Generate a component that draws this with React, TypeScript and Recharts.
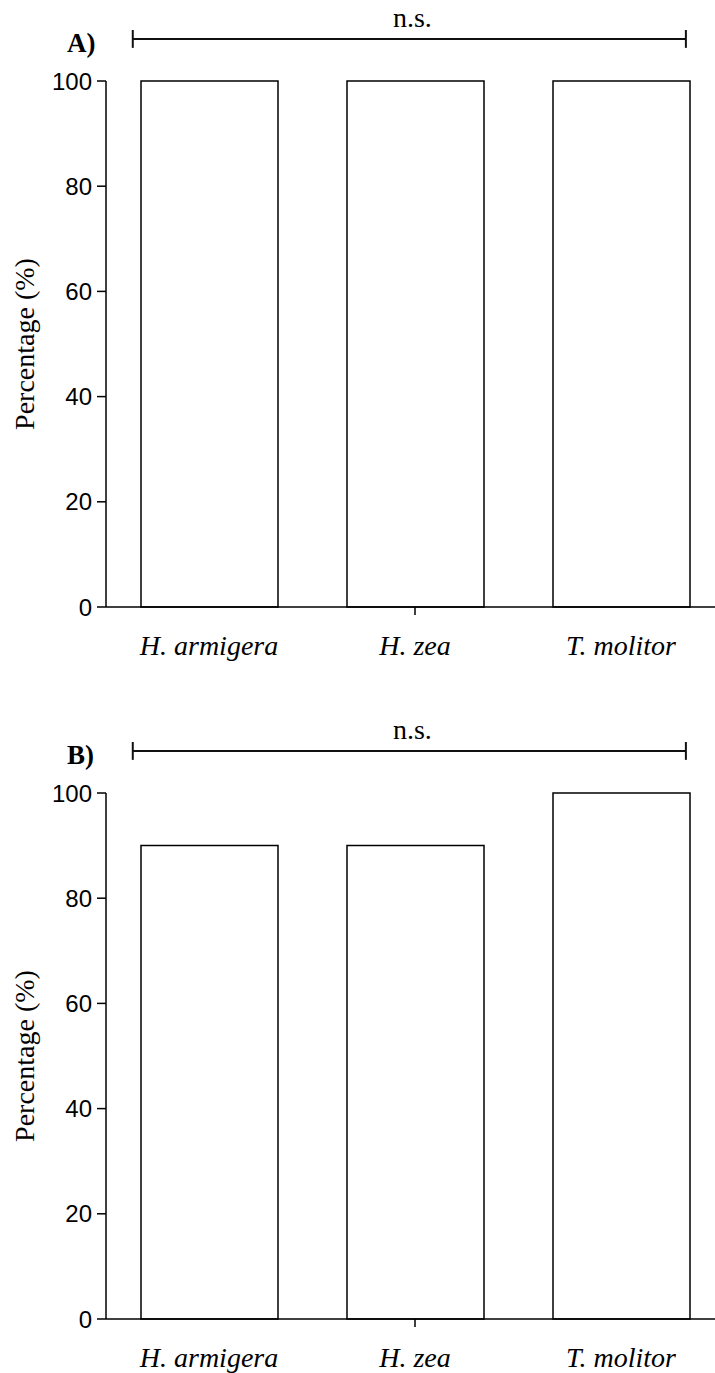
import { Bar, BarChart, ReferenceLine, XAxis, YAxis } from "recharts";

const species = ["H. armigera", "H. zea", "T. molitor"];
const speciesSlot = [0.5, 1.5, 2.5];
const panelAValues = [100, 100, 100];
const panelBValues = [90, 90, 100];
const yTicks = [0, 20, 40, 60, 80, 100];
const tickedSpecies = ["H. zea"];
// bracket ends, measured in category bands along the x axis (0 = left edge, 3 = right edge)
const bracketSpan = [0.13, 2.815];
const bracketLevel = 108;
const bracketCap = 1.7;
const bracketText = "n.s.";
const panelLabels = ["A)", "B)"];

const CHART_W = 730;
const CHART_H = 661;
const PANEL_STEP = 712;
const SERIF = "'Liberation Serif', 'Times New Roman', serif";
const SANS = "'Liberation Sans', Arial, sans-serif";

function SpeciesTick({ x, y, payload }: any) {
  const showLine = tickedSpecies.includes(payload.value);
  return (
    <g>
      {showLine && <line x1={x} x2={x} y1={y} y2={y + 8} stroke="#000" strokeWidth={1.5} />}
      <text
        x={x}
        y={y + 38}
        textAnchor="middle"
        dominantBaseline="central"
        fontFamily={SERIF}
        fontStyle="italic"
        fontSize={28}
        fill="#000"
      >
        {payload.value}
      </text>
    </g>
  );
}

function Panel({ values, label, top }: { values: number[]; label: string; top: number }) {
  const data = species.map((name, i) => ({ name, slot: speciesSlot[i], value: values[i] }));
  const lineStyle = { stroke: "#111", strokeWidth: 2 };

  return (
    <div style={{ position: "absolute", left: 0, top, width: CHART_W, height: CHART_H }}>
      <div
        style={{
          position: "absolute",
          left: 67,
          top: 28,
          fontFamily: SERIF,
          fontWeight: "bold",
          fontSize: 27,
          lineHeight: "30px",
          color: "#000",
        }}
      >
        {label}
      </div>
      <BarChart
        width={CHART_W}
        height={CHART_H}
        data={data}
        margin={{ top: 81, right: 6, bottom: 0, left: 0 }}
        style={{ overflow: "visible" }}
      >
        <XAxis
          dataKey="name"
          height={54}
          tickSize={0}
          tickMargin={0}
          tickLine={false}
          axisLine={{ stroke: "#000", strokeWidth: 1.5 }}
          tick={<SpeciesTick />}
          interval={0}
        />
        <XAxis
          xAxisId="span"
          dataKey="slot"
          type="number"
          domain={[0, 3]}
          hide
          allowDataOverflow
        />
        <YAxis
          width={106}
          domain={[0, 100]}
          ticks={yTicks}
          interval={0}
          tickSize={9}
          tickMargin={5}
          axisLine={{ stroke: "#000", strokeWidth: 1.5 }}
          tickLine={{ stroke: "#000", strokeWidth: 1.5 }}
          tick={{ fill: "#000", fontSize: 24, fontFamily: SANS }}
          label={{
            content: ({ viewBox }: any) => (
              <text
                transform={`translate(24, ${viewBox.y + viewBox.height / 2}) rotate(-90)`}
                textAnchor="middle"
                dominantBaseline="central"
                fontFamily={SERIF}
                fontSize={28}
                fill="#000"
              >
                Percentage (%)
              </text>
            ),
          }}
        />
        <Bar
          dataKey="value"
          barSize={137}
          fill="#fff"
          stroke="#000"
          strokeWidth={1.5}
          isAnimationActive={false}
        />
        <ReferenceLine
          xAxisId="span"
          ifOverflow="visible"
          segment={[
            { x: bracketSpan[0], y: bracketLevel },
            { x: bracketSpan[1], y: bracketLevel },
          ]}
          {...lineStyle}
          label={{
            content: ({ viewBox }: any) => (
              <text
                x={viewBox.x + viewBox.width / 2 + 3}
                y={viewBox.y - 21}
                textAnchor="middle"
                dominantBaseline="central"
                fontFamily={SERIF}
                fontSize={28}
                fill="#000"
              >
                {bracketText}
              </text>
            ),
          }}
        />
        {bracketSpan.map((end) => (
          <ReferenceLine
            key={end}
            xAxisId="span"
            ifOverflow="visible"
            segment={[
              { x: end, y: bracketLevel - bracketCap },
              { x: end, y: bracketLevel + bracketCap },
            ]}
            {...lineStyle}
          />
        ))}
      </BarChart>
    </div>
  );
}

export default function App() {
  return (
    <div
      style={{
        position: "absolute",
        left: 0,
        top: 0,
        width: 715,
        height: 1373,
        overflow: "hidden",
        background: "#fff",
      }}
    >
      <Panel values={panelAValues} label={panelLabels[0]} top={0} />
      <Panel values={panelBValues} label={panelLabels[1]} top={PANEL_STEP} />
    </div>
  );
}
